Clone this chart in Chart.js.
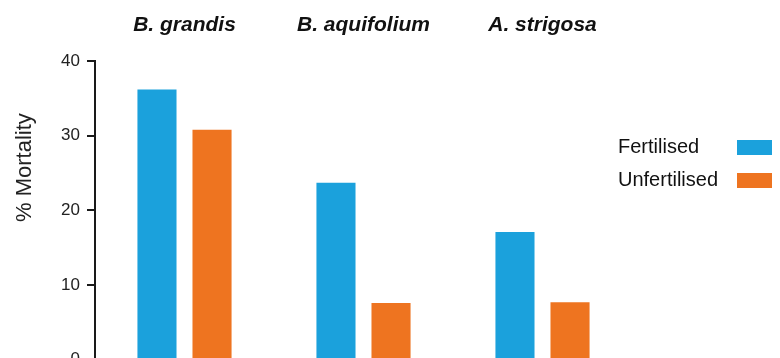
<!DOCTYPE html>
<html>
<head>
<meta charset="utf-8">
<script src="https://cdn.jsdelivr.net/npm/chart.js@4.4.1/dist/chart.umd.min.js"></script>
<style>
    html, body { margin: 0; padding: 0; background: #fff; overflow: hidden; }
    canvas { display: block; }
</style>
</head>
<body>
<canvas id="mortalityChart" width="785" height="377"></canvas>
<script>
// --------- Chart Data ---------
const species = ['B. grandis', 'B. aquifolium', 'A. strigosa'];
const fertilised = [36.2, 23.7, 17.1];
const unfertilised = [30.8, 7.6, 7.7];
const mortalityTicks = [0, 10, 20, 30, 40];


// --------- Styles ---------
const blue = '#1ba1dc';
const orange = '#ee7420';
const ink = '#1a1a1a';
Chart.defaults.font.family = '"Liberation Sans", Arial, sans-serif';
Chart.defaults.color = '#222';


// --------- Legend sits a bit into the plot width (text left, box right) ---------
const legendNudge = {
    id: 'legendNudge',
    afterLayout(chart) {
        chart.legend.left -= 14;
        chart.legend.width += 14;
    }
};


// --------- Chart ---------
const ctx = document.getElementById('mortalityChart');

new Chart(ctx, {
    type: 'bar',
    data: {
        labels: species,
        datasets: [
            { label: 'Fertilised', data: fertilised, backgroundColor: blue },
            { label: 'Unfertilised', data: unfertilised, backgroundColor: orange }
        ]
    },
    options: {
        responsive: false,
        animation: false,
        devicePixelRatio: 1,
        layout: { padding: 0 },
        datasets: {
            bar: { barPercentage: 0.71, categoryPercentage: 0.615 }
        },
        scales: {
            x: {
                position: 'top',
                grid: { display: false, drawTicks: false },
                border: { display: false },
                ticks: {
                    padding: 23,
                    color: '#111',
                    font: { size: 21, weight: 'bold', style: 'italic' }
                },
                afterFit: (scale) => { scale.height = 61; }
            },
            y: {
                min: mortalityTicks[0],
                max: mortalityTicks[mortalityTicks.length - 1],
                ticks: {
                    stepSize: mortalityTicks[1] - mortalityTicks[0],
                    padding: 7,
                    font: { size: 17 }
                },
                grid: { drawOnChartArea: false, drawTicks: true, tickLength: 8, color: ink, lineWidth: 2 },
                border: { display: true, color: ink, width: 2 },
                title: {
                    display: true,
                    text: '% Mortality'.padStart(25),
                    font: { size: 22 },
                    padding: { top: 12, bottom: 0 }
                },
                afterFit: (scale) => { scale.width = 95; }
            }
        },
        plugins: {
            tooltip: { enabled: false },
            legend: {
                position: 'right',
                align: 'start',
                rtl: true,
                maxWidth: 153,
                title: { display: true, text: ' ', font: { size: 12 }, padding: { top: 110, bottom: 0 } },
                labels: {
                    textAlign: 'right',
                    boxWidth: 35,
                    boxHeight: 15,
                    padding: 13,
                    color: '#111',
                    font: { size: 20 }
                }
            }
        }
    },
    plugins: [legendNudge]
});
</script>
</body>
</html>
